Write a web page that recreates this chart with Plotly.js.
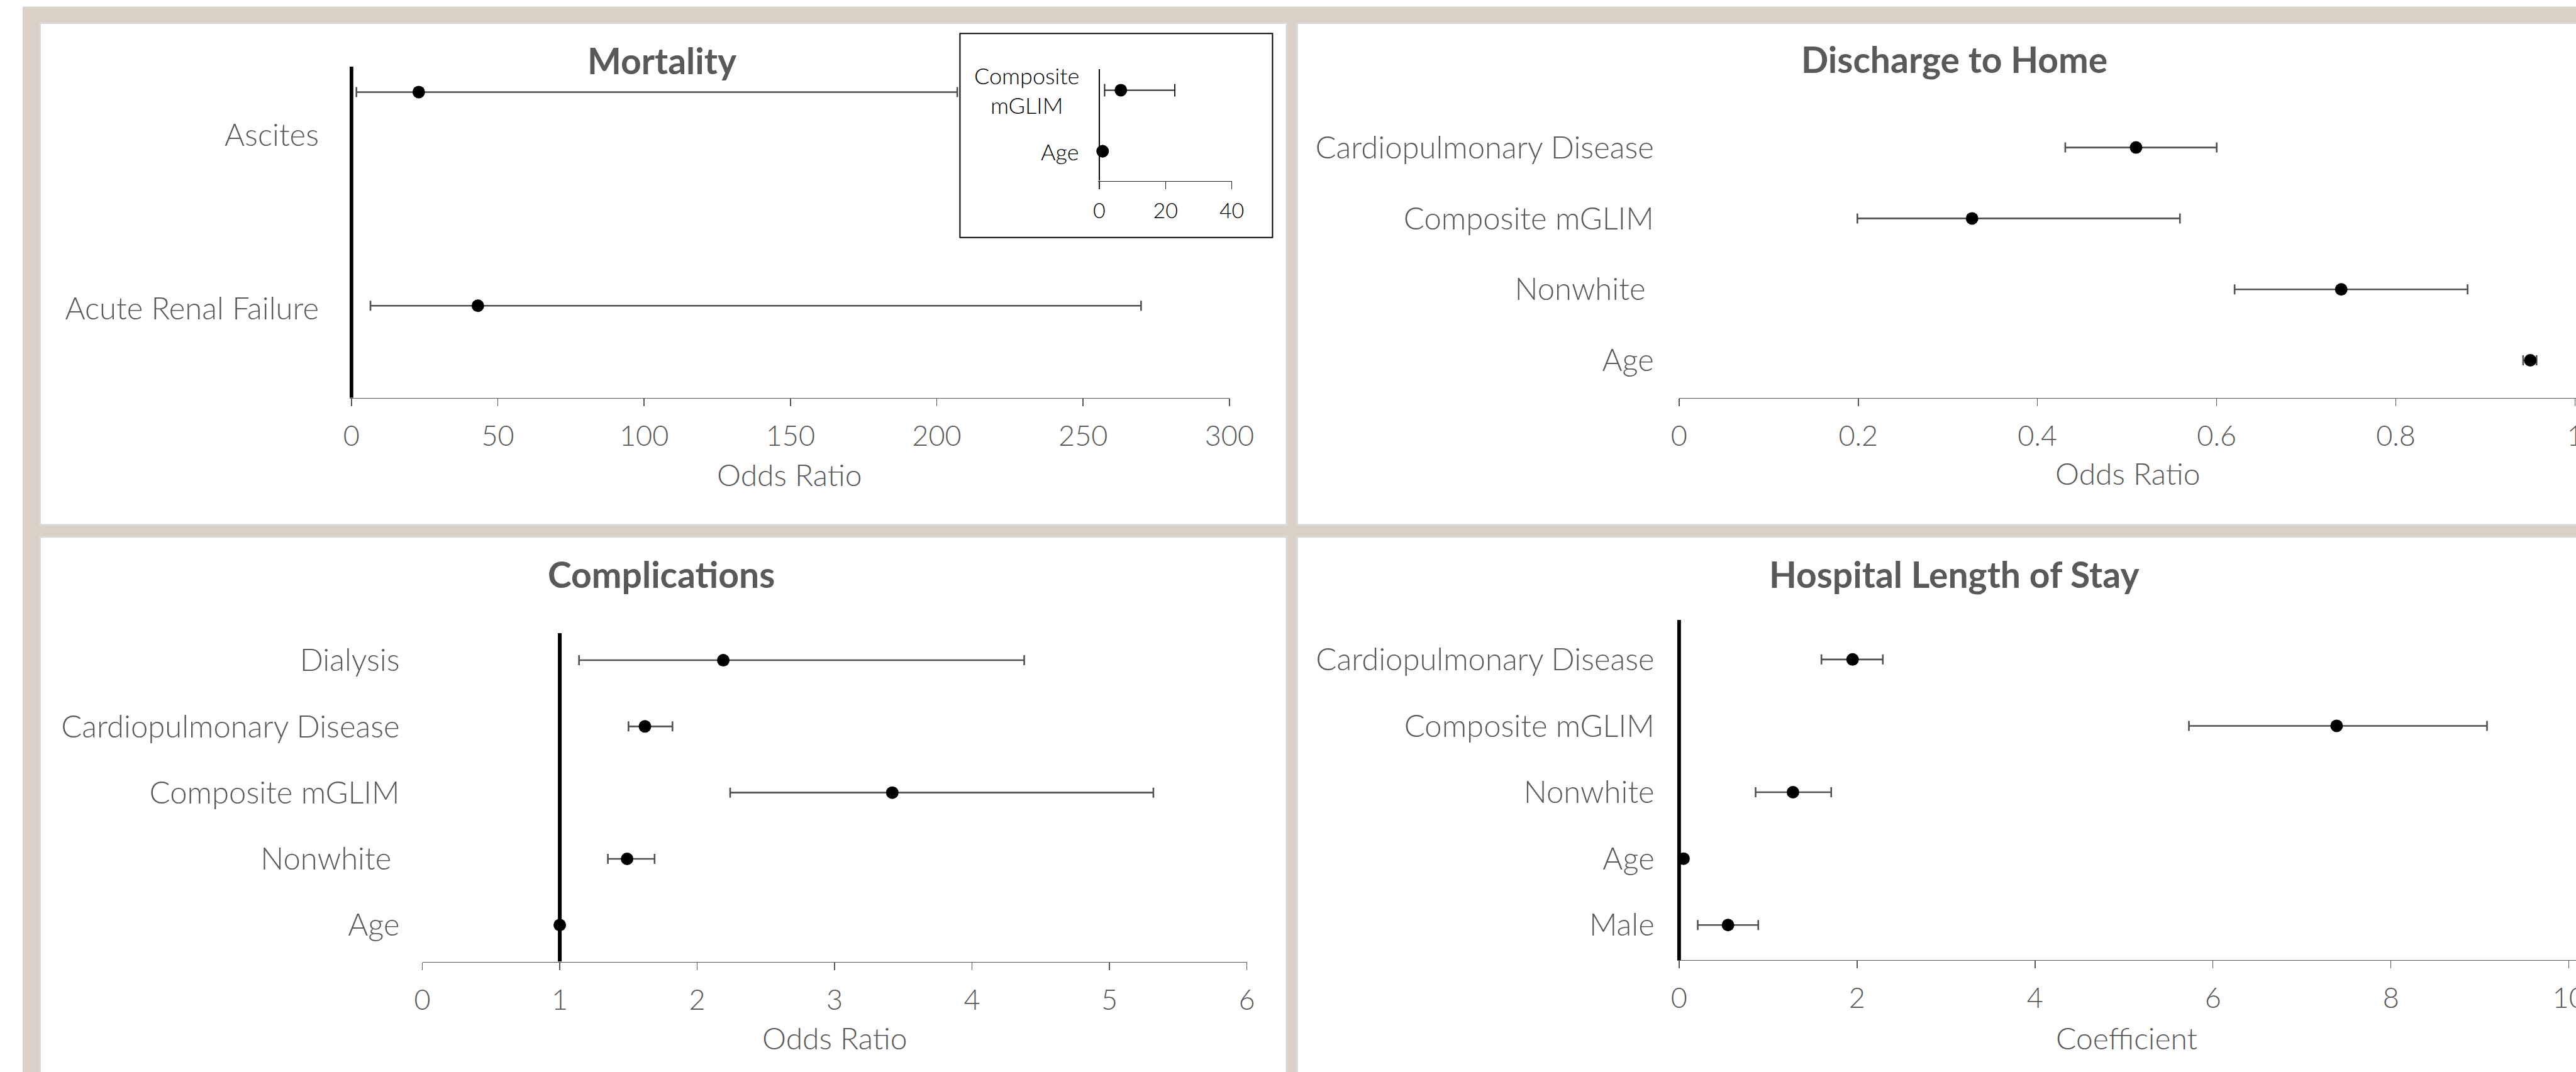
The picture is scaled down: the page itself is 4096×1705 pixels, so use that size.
<!DOCTYPE html>
<html><head><meta charset="utf-8">
<script src="https://cdn.plot.ly/plotly-3.0.1.min.js"></script>
<style>html,body{margin:0;padding:0;background:#fff;overflow:hidden}#chart{width:4096px;height:1705px}</style>
</head><body><div id="chart"></div>
<script>
// ---------------- DATA ----------------
const mortCats = ['Ascites', 'Acute Renal Failure'];
const mortOR   = [23.0, 43.2];
const mortLo   = [1.7, 6.5];
const mortHi   = [207.0, 269.8];

const insetCats = ['Composite<br>mGLIM', 'Age'];
const insetOR   = [6.5, 1.0];
const insetLo   = [1.6, 0.97];
const insetHi   = [22.8, 1.03];

const dischCats = ['Cardiopulmonary Disease', 'Composite mGLIM', 'Nonwhite\u00a0', 'Age'];
const dischOR   = [0.510, 0.327, 0.739, 0.950];
const dischLo   = [0.431, 0.199, 0.620, 0.942];
const dischHi   = [0.600, 0.559, 0.880, 0.957];

const compCats = ['Dialysis', 'Cardiopulmonary Disease', 'Composite mGLIM', 'Nonwhite\u00a0', 'Age'];
const compOR   = [2.19, 1.62, 3.42, 1.49, 1.00];
const compLo   = [1.14, 1.50, 2.24, 1.35, 0.99];
const compHi   = [4.38, 1.82, 5.32, 1.69, 1.01];

const losCats = ['Cardiopulmonary Disease', 'Composite mGLIM', 'Nonwhite', 'Age', 'Male'];
const losCoef = [1.95, 7.39, 1.28, 0.05, 0.55];
const losLo   = [1.60, 5.73, 0.86, 0.03, 0.21];
const losHi   = [2.29, 9.08, 1.71, 0.07, 0.89];

const mortTicks  = [0, 50, 100, 150, 200, 250, 300];
const insetTicks = [0, 20, 40];
const dischTicks = [0, 0.2, 0.4, 0.6, 0.8, 1];
const dischTickText = ['0', '0.2', '0.4', '0.6', '0.8', '1'];
const compTicks  = [0, 1, 2, 3, 4, 5, 6];
const losTicks   = [0, 2, 4, 6, 8, 10];

const panelTitles = ['Mortality', 'Discharge to Home', 'Complications', 'Hospital Length of Stay'];
const axisTitles  = ['Odds Ratio', 'Odds Ratio', 'Odds Ratio', 'Coefficient'];
const nullLines   = {mort: 0, inset: 0, comp: 1, los: 0};

// ---------------- LAYOUT HELPERS ----------------
const W = 4096, H = 1705;
const fx = p => p / W;
const fy = p => 1 - p / H;
const TXT = '#595959';
const FONT = 'Lato, "Open Sans", sans-serif';
const LBL = 49;   // category label size
const TICK = 45;  // tick label size

const idx = arr => arr.map((_, i) => arr.length - 1 - i);

function fpTrace(cats, v, lo, hi, xa, ya, opts) {
  opts = opts || {};
  return {
    type: 'scatter', mode: 'markers', xaxis: xa, yaxis: ya,
    x: v, y: idx(cats),
    marker: {color: '#000000', size: opts.msize || 20, line: {width: 0}},
    error_x: {type: 'data', symmetric: false,
      array: hi.map((h, i) => h - v[i]),
      arrayminus: lo.map((l, i) => v[i] - l),
      color: opts.ecolor || '#505050', thickness: opts.ethick || 2.6, width: opts.ewidth || 8},
    cliponaxis: false, hoverinfo: 'skip', showlegend: false
  };
}
function refLine(xval, yr, xa, ya, w) {
  return {type: 'scatter', mode: 'lines', xaxis: xa, yaxis: ya,
    x: [xval, xval], y: yr, line: {color: '#000000', width: w},
    hoverinfo: 'skip', showlegend: false};
}

// axis ranges
const mortYR  = [-0.431, 1.119];
const insetYR = [-0.485, 1.346];
const dischYR = [-0.529, 3.5];
const compYR  = [-0.553, 4.409];
const losYR   = [-0.527, 4.595];

const traces = [
  refLine(nullLines.mort, mortYR, 'x', 'y', 6),
  fpTrace(mortCats, mortOR, mortLo, mortHi, 'x', 'y'),
  refLine(nullLines.inset, insetYR, 'x2', 'y2', 2),
  fpTrace(insetCats, insetOR, insetLo, insetHi, 'x2', 'y2', {ecolor: '#222222', ethick: 2, ewidth: 10}),
  fpTrace(dischCats, dischOR, dischLo, dischHi, 'x3', 'y3'),
  refLine(nullLines.comp, compYR, 'x4', 'y4', 6),
  fpTrace(compCats, compOR, compLo, compHi, 'x4', 'y4'),
  refLine(nullLines.los, losYR, 'x5', 'y5', 6),
  fpTrace(losCats, losCoef, losLo, losHi, 'x5', 'y5')
];

function xax(domain, range, tickvals, ticktext, extra) {
  return Object.assign({
    domain: domain, range: range, tickvals: tickvals, ticktext: ticktext,
    showline: true, linecolor: TXT, linewidth: 1.5,
    ticks: 'outside', ticklen: 12, tickwidth: 1.5, tickcolor: TXT,
    showgrid: false, zeroline: false, fixedrange: true,
    tickfont: {family: FONT, size: TICK, color: TXT, weight: 300},
    ticklabelstandoff: 9, ticklabeloverflow: 'allow'
  }, extra || {});
}
function yax(domain, range, tickvals, ticktext, standoff, extra) {
  return Object.assign({
    domain: domain, range: range, tickvals: tickvals, ticktext: ticktext,
    showline: false, ticks: '', showgrid: false, zeroline: false, fixedrange: true,
    tickfont: {family: FONT, size: LBL, color: TXT, weight: 300},
    ticklabelstandoff: standoff
  }, extra || {});
}

const layout = {
  width: W, height: H, margin: {l: 0, r: 0, t: 0, b: 0},
  paper_bgcolor: '#ffffff', plot_bgcolor: 'rgba(0,0,0,0)', showlegend: false,
  xaxis:  xax([fx(556.0), fx(1954.9)], [-0.6, 300], mortTicks, mortTicks.map(String), {anchor: 'y'}),
  yaxis:  yax([fy(632.7), fy(106)], mortYR, [0.8, -0.015], mortCats, 48, {anchor: 'x'}),
  xaxis2: xax([fx(1746.4), fx(1958.6)], [-0.3, 40], insetTicks, insetTicks.map(String),
              {anchor: 'y2', linecolor: '#222', tickcolor: '#222', tickfont: {family: FONT, size: 34, color: '#000', weight: 300}, ticklabelstandoff: 5}),
  yaxis2: yax([fy(287.6), fy(109.8)], insetYR, [], [], 0, {anchor: 'x2', showticklabels: false}),
  xaxis3: xax([fx(2669.8), 1], [0, 1.001], dischTicks, dischTickText, {anchor: 'y3'}),
  yaxis3: yax([fy(632.7), fy(178.2)], dischYR, idx(dischCats), dischCats, 39, {anchor: 'x3'}),
  xaxis4: xax([fx(671.6), fx(1982.5)], [0, 6], compTicks, compTicks.map(String), {anchor: 'y4'}),
  yaxis4: yax([fy(1529.5), fy(1007)], compYR, idx(compCats), compCats, 35, {anchor: 'x4'}),
  xaxis5: xax([fx(2666.7), 1], [-0.022, 10.08], losTicks, losTicks.map(String), {anchor: 'y5'}),
  yaxis5: yax([fy(1526.9), fy(986)], losYR, idx(losCats), losCats, 35, {anchor: 'x5'}),
  shapes: [
    {type: 'rect', xref: 'paper', yref: 'paper', x0: fx(35.9), x1: fx(4300), y0: fy(10.5), y1: fy(1900),
     fillcolor: '#D9D0C6', line: {width: 0}, layer: 'below'},
    {type: 'rect', xref: 'paper', yref: 'paper', x0: fx(63.5), x1: fx(2046), y0: fy(36.6), y1: fy(835.1),
     fillcolor: '#ffffff', line: {color: '#D9D9D9', width: 3}, layer: 'below'},
    {type: 'rect', xref: 'paper', yref: 'paper', x0: fx(2062.5), x1: fx(4300), y0: fy(36.6), y1: fy(835.1),
     fillcolor: '#ffffff', line: {color: '#D9D9D9', width: 3}, layer: 'below'},
    {type: 'rect', xref: 'paper', yref: 'paper', x0: fx(63.5), x1: fx(2046), y0: fy(853.8), y1: fy(1900),
     fillcolor: '#ffffff', line: {color: '#D9D9D9', width: 3}, layer: 'below'},
    {type: 'rect', xref: 'paper', yref: 'paper', x0: fx(2062.5), x1: fx(4300), y0: fy(853.8), y1: fy(1900),
     fillcolor: '#ffffff', line: {color: '#D9D9D9', width: 3}, layer: 'below'},
    {type: 'rect', xref: 'paper', yref: 'paper', x0: fx(1526.4), x1: fx(2023.4), y0: fy(53.3), y1: fy(377.7),
     fillcolor: '#ffffff', line: {color: '#000000', width: 2}, layer: 'below'}
  ],
  annotations: []
};

const titleFont = {family: FONT, size: 57, color: TXT, weight: 700};
const axFont = {family: FONT, size: 48, color: TXT, weight: 300};
const titlePos = [[1052.5, 95.5], [3107.5, 94.5], [1051.8, 912.5], [3107.5, 912.5]];
panelTitles.forEach((t, i) => layout.annotations.push({
  text: t, xref: 'paper', yref: 'paper', x: fx(titlePos[i][0]), y: fy(titlePos[i][1]),
  xanchor: 'center', yanchor: 'middle', showarrow: false, font: titleFont}));
const axRefs = ['x', 'x3', 'x4', 'x5'];
const axTitleY = [754.5, 752.2, 1650.1, 1650.1];
axisTitles.forEach((t, i) => layout.annotations.push({
  text: t, xref: axRefs[i] + ' domain', yref: 'paper', x: 0.5, y: fy(axTitleY[i]),
  xanchor: 'center', yanchor: 'middle', showarrow: false, font: axFont}));
// inset category labels
insetCats.forEach((c, i) => layout.annotations.push({
  text: c, xref: 'x2 domain', yref: 'y2', x: 0, y: idx(insetCats)[i], xshift: -28,
  xanchor: 'right', yanchor: 'middle', align: 'center', showarrow: false,
  font: {family: FONT, size: 36, color: '#000000', weight: 300}}));

Plotly.newPlot('chart', traces, layout, {displayModeBar: false, staticPlot: true});
</script></body></html>
